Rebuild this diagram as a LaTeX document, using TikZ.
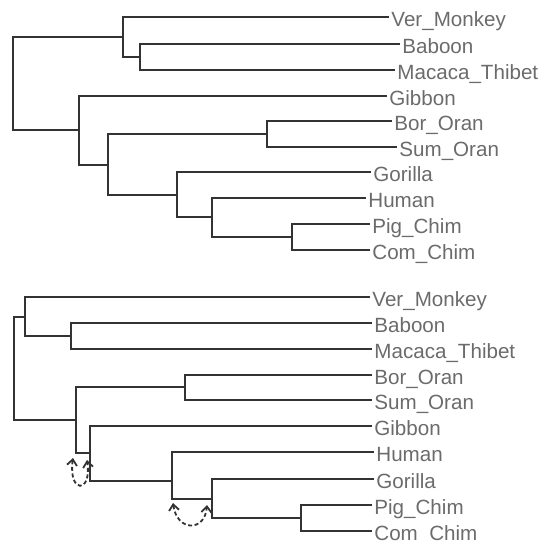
\documentclass[tikz,border=0pt]{standalone}
\usepackage{fontspec}
\setmainfont{Liberation Sans}
\usetikzlibrary{arrows.meta}

\definecolor{branchgray}{HTML}{333333}
\definecolor{labelgray}{HTML}{6B6B6B}

\tikzset{
  branch/.style={draw=branchgray, line width=1pt},
  leaf/.style={anchor=west, inner xsep=1pt, inner ysep=0pt, text height=9pt, text depth=0pt,
    text=labelgray, font=\fontsize{10.3}{12}\selectfont},
  swapmove/.style={draw=branchgray, line width=0.9pt, dash pattern=on 2pt off 1.3pt,
    {Straight Barb[length=3pt,width=5pt]}-{Straight Barb[length=3pt,width=5pt]}}
}

\begin{document}
\begin{tikzpicture}[x=0.5pt, y=-0.5pt]
    \useasboundingbox (0,0) rectangle (543,542);

    % upper tree
    \node [leaf] (vmT) at (389,17) {Ver\_Monkey};
    \node [leaf] (baT) at (400,44) {Baboon};
    \node [leaf] (mtT) at (395,70) {Macaca\_Thibet};
    \node [leaf] (giT) at (387,96) {Gibbon};
    \node [leaf] (boT) at (392,121) {Bor\_Oran};
    \node [leaf] (suT) at (397,147) {Sum\_Oran};
    \node [leaf] (goT) at (371,172) {Gorilla};
    \node [leaf] (huT) at (366,198) {Human};
    \node [leaf] (pcT) at (370,224) {Pig\_Chim};
    \node [leaf] (ccT) at (370,250) {Com\_Chim};

    \coordinate (tR) at (13.5,83);
    \coordinate (tA) at (123,37);
    \coordinate (tBM) at (140,57);
    \coordinate (tB) at (79,130);
    \coordinate (tC) at (108,165);
    \coordinate (tO) at (267,134);
    \coordinate (tD) at (177,195);
    \coordinate (tE) at (212,217);
    \coordinate (tP) at (292,237);

    \draw [branch] (tR) |- (tA);
    \draw [branch] (tR) |- (tB);
    \draw [branch] (tA) |- (vmT.west);
    \draw [branch] (tA) |- (tBM);
    \draw [branch] (tBM) |- (baT.west);
    \draw [branch] (tBM) |- (mtT.west);
    \draw [branch] (tB) |- (giT.west);
    \draw [branch] (tB) |- (tC);
    \draw [branch] (tC) |- (tO);
    \draw [branch] (tC) |- (tD);
    \draw [branch] (tO) |- (boT.west);
    \draw [branch] (tO) |- (suT.west);
    \draw [branch] (tD) |- (goT.west);
    \draw [branch] (tD) |- (tE);
    \draw [branch] (tE) |- (huT.west);
    \draw [branch] (tE) |- (tP);
    \draw [branch] (tP) |- (pcT.west);
    \draw [branch] (tP) |- (ccT.west);

    % lower tree
    \node [leaf] (vmB) at (370,297) {Ver\_Monkey};
    \node [leaf] (baB) at (372,323) {Baboon};
    \node [leaf] (mtB) at (372,349) {Macaca\_Thibet};
    \node [leaf] (boB) at (372,375) {Bor\_Oran};
    \node [leaf] (suB) at (372,400) {Sum\_Oran};
    \node [leaf] (giB) at (372,426) {Gibbon};
    \node [leaf] (huB) at (374,452) {Human};
    \node [leaf] (goB) at (374,479) {Gorilla};
    \node [leaf] (pcB) at (372,505) {Pig\_Chim};
    \node [leaf] (ccB) at (372,531) {Com\_Chim};

    \coordinate (bR) at (14,368);
    \coordinate (bA) at (25,317);
    \coordinate (bBM) at (71,336);
    \coordinate (bB) at (76,420);
    \coordinate (bO) at (185,387);
    \coordinate (bC) at (90,453);
    \coordinate (bD) at (172,481);
    \coordinate (bE) at (212,499);
    \coordinate (bP) at (301,518);

    \draw [branch] (bR) |- (bA);
    \draw [branch] (bR) |- (bB);
    \draw [branch] (bA) |- (vmB.west);
    \draw [branch] (bA) |- (bBM);
    \draw [branch] (bBM) |- (baB.west);
    \draw [branch] (bBM) |- (mtB.west);
    \draw [branch] (bB) |- (bO);
    \draw [branch] (bB) |- (bC);
    \draw [branch] (bO) |- (boB.west);
    \draw [branch] (bO) |- (suB.west);
    \draw [branch] (bC) |- (giB.west);
    \draw [branch] (bC) |- (bD);
    \draw [branch] (bD) |- (huB.west);
    \draw [branch] (bD) |- (bE);
    \draw [branch] (bE) |- (goB.west);
    \draw [branch] (bE) |- (bP);
    \draw [branch] (bP) |- (pcB.west);
    \draw [branch] (bP) |- (ccB.west);

    % moves between the rearranged branches
    \coordinate (m1a) at (73,458);
    \coordinate (m1b) at (87,460);
    \coordinate (m2a) at (173,503);
    \coordinate (m2b) at (207,505);
    \draw [swapmove] (m1a) .. controls (68,494) and (92,494) .. (m1b);
    \draw [swapmove] (m2a) .. controls (177,532) and (205,532) .. (m2b);
\end{tikzpicture}
\end{document}
